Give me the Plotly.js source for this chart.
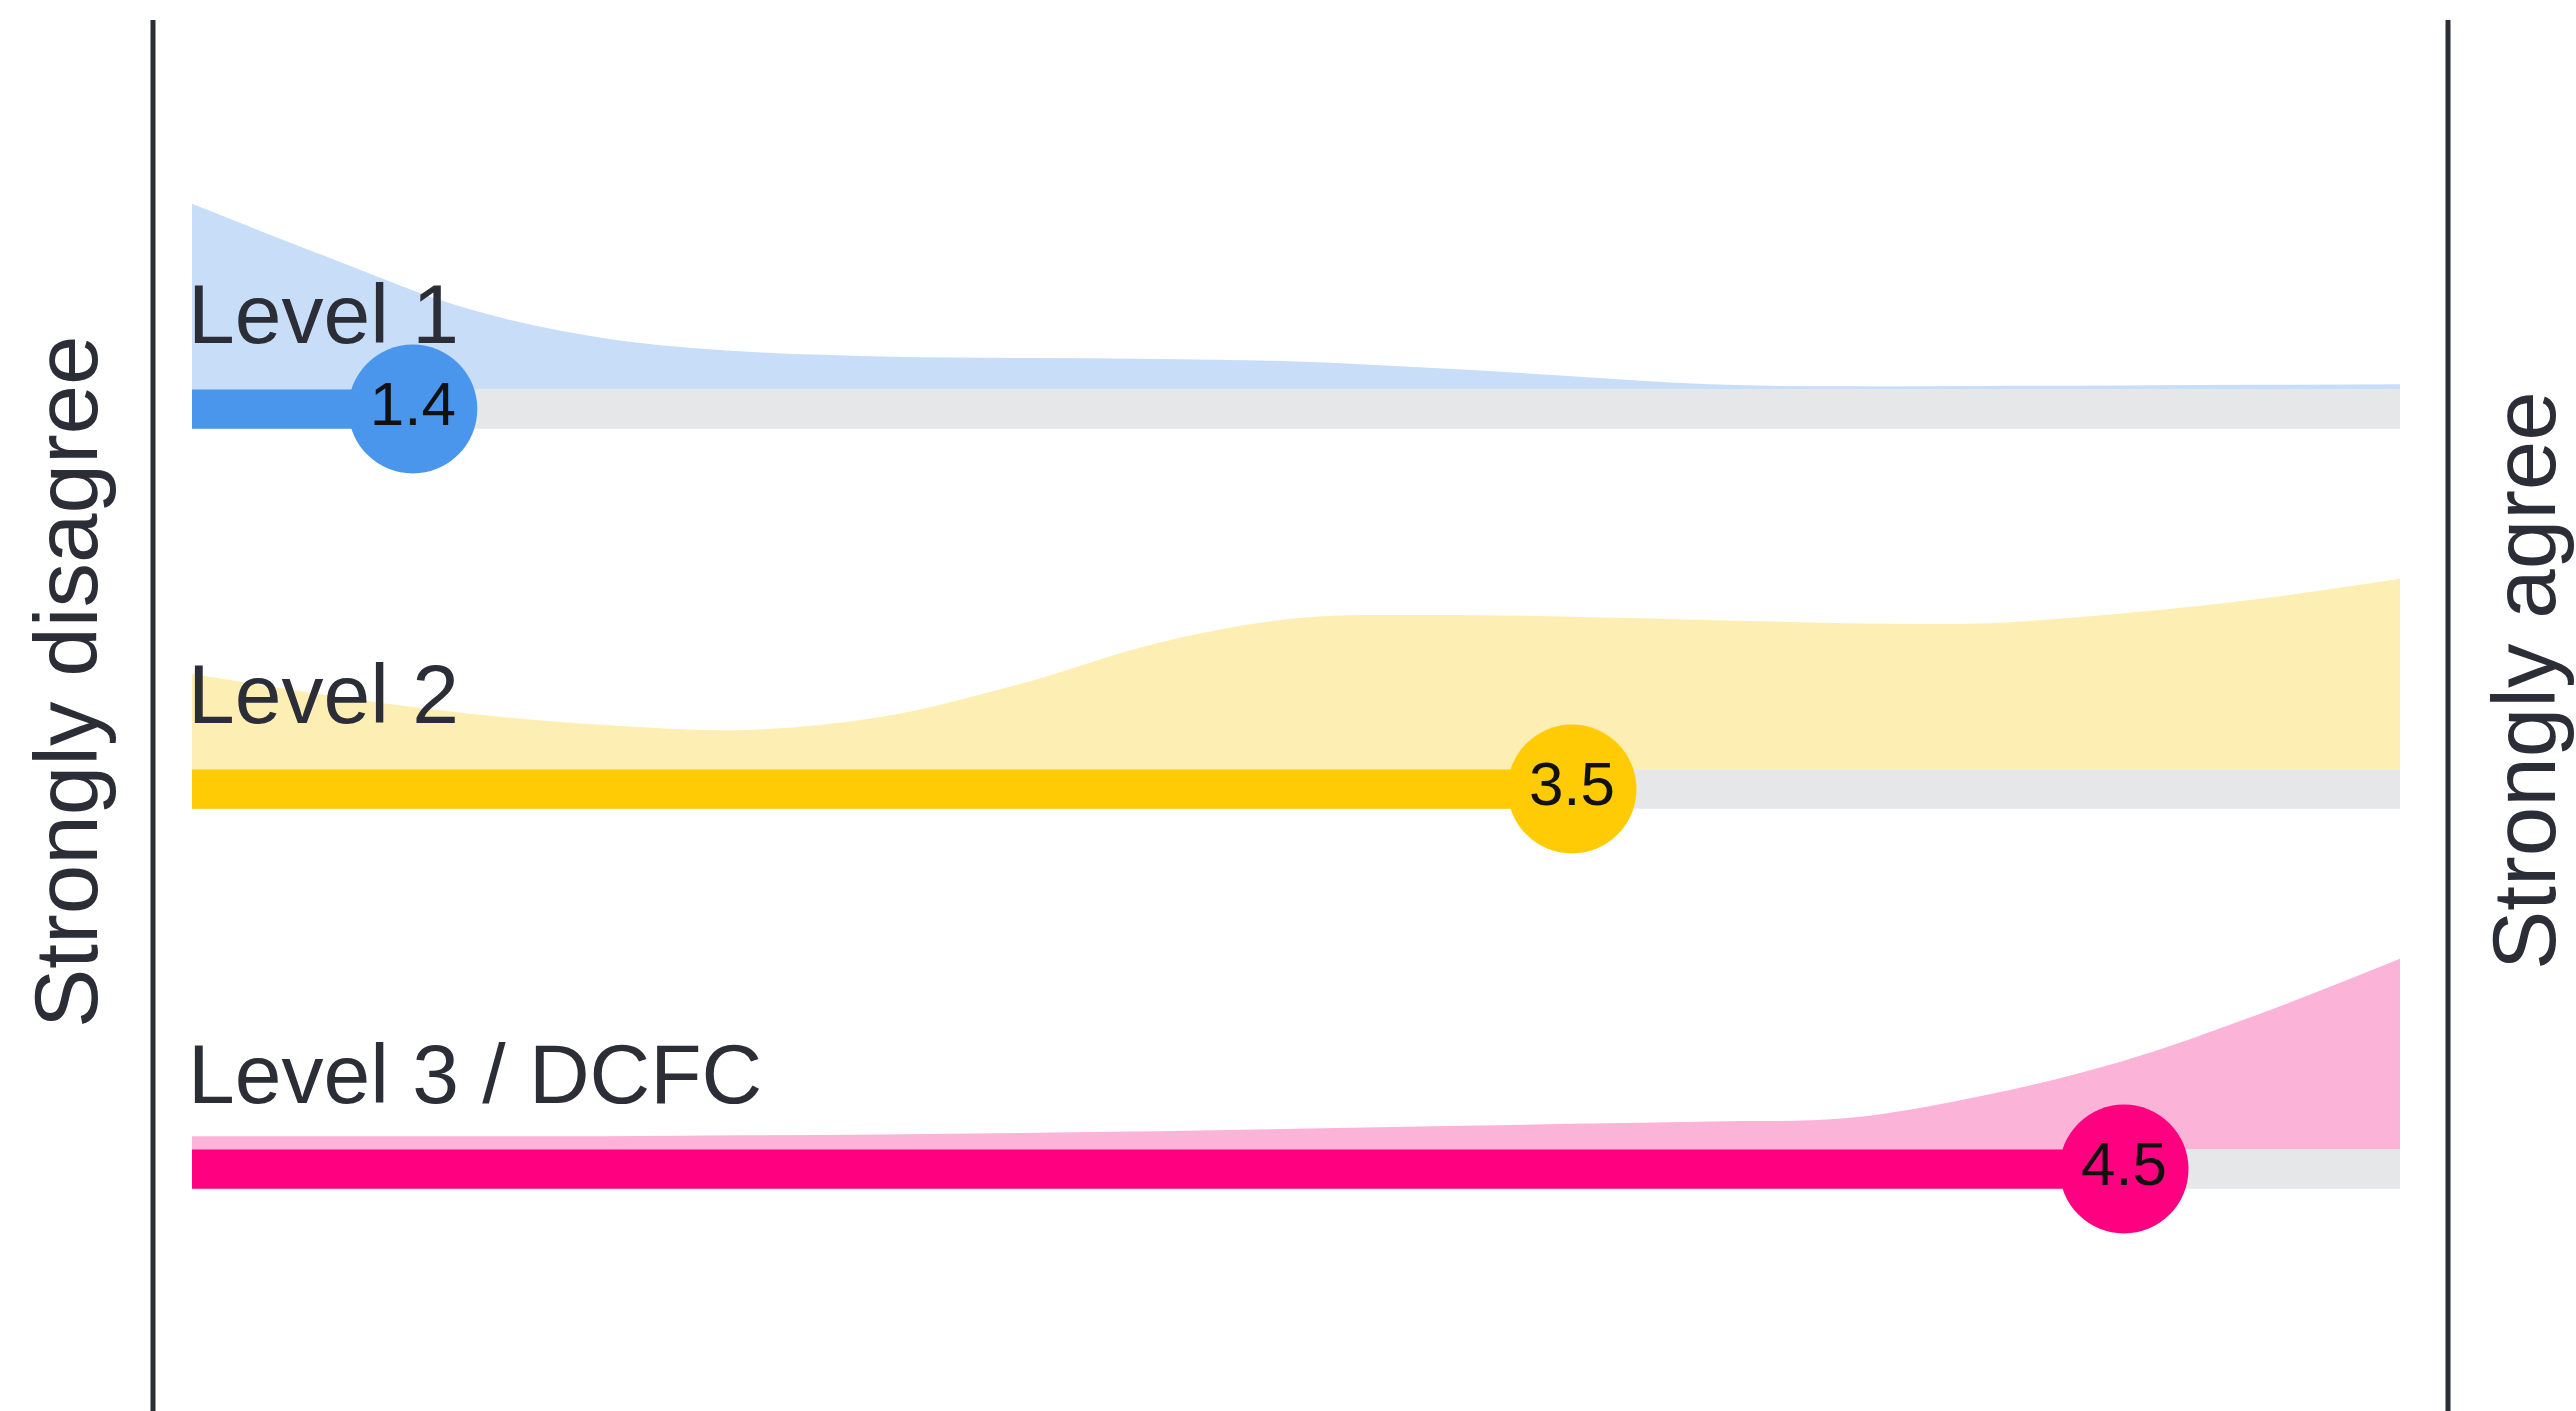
<!DOCTYPE html>
<html>
<head>
<meta charset="utf-8">
<script src="https://cdn.plot.ly/plotly-3.0.1.min.js"></script>
<style>
  html, body { margin: 0; padding: 0; background: #ffffff; }
  #chart { width: 2576px; height: 1411px; }
</style>
</head>
<body>
<div id="chart"></div>
<script>
// ---- data ----
const categories = ['Level 1', 'Level 2', 'Level 3 / DCFC'];
const meanScores = [1.4, 3.5, 4.5];
const scaleMin = 1;
const scaleMax = 5;
const leftLabel = 'Strongly disagree';
const rightLabel = 'Strongly agree';

// answer distribution (relative density) read along the 1..5 scale
const densityX = [1, 1.25, 1.5, 1.75, 2, 2.25, 2.5, 2.75, 3, 3.25, 3.5, 3.75, 4, 4.25, 4.5, 4.75, 5];
const level1Density = [113, 80, 49, 31, 23, 20, 19, 18.5, 17, 13, 8, 3, 1.8, 2, 2.3, 2.7, 3];
const level2Density = [58, 45, 34, 27, 24, 32, 52, 77, 92, 94, 93, 91, 89, 89, 95, 104, 116];
const level3Density = [8, 8, 8, 8, 8.5, 9, 10, 11, 12.5, 14, 15.5, 17, 19, 33, 54, 83, 116];

// ---- styling ----
const darkColors = ['#4a96ec', '#ffcb05', '#ff0080'];
const lightColors = ['#c8ddf8', '#fdefb3', '#fbb3d7'];
const trackColor = '#e6e7e9';
const inkColor = '#2b2e36';
const rowY = [3, 2, 1];          // vertical position of each row
const barThick = 0.1037;          // bar thickness in y units
const densityScale = 0.00432;     // density -> y units

const densities = [level1Density, level2Density, level3Density];
const traces = [];

// density areas
categories.forEach((c, i) => {
  const base = rowY[i] + barThick / 2;
  traces.push({
    type: 'scatter', mode: 'lines', x: densityX,
    y: densityX.map(() => base),
    line: { width: 0, color: 'rgba(0,0,0,0)' },
    hoverinfo: 'skip', showlegend: false
  });
  traces.push({
    type: 'scatter', mode: 'lines', x: densityX,
    y: densities[i].map(d => base + d * densityScale),
    line: { width: 0, shape: 'spline', smoothing: 1, color: lightColors[i] },
    fill: 'tonexty', fillcolor: lightColors[i],
    hoverinfo: 'skip', showlegend: false
  });
});

// gray tracks
traces.push({
  type: 'bar', orientation: 'h',
  y: rowY, x: categories.map(() => scaleMax - scaleMin), base: scaleMin,
  width: barThick, marker: { color: trackColor, line: { width: 0 } },
  hoverinfo: 'skip', showlegend: false
});
// colored bars up to the mean
traces.push({
  type: 'bar', orientation: 'h',
  y: rowY, x: meanScores.map(m => m - scaleMin), base: scaleMin,
  width: barThick, marker: { color: darkColors, line: { width: 0 } },
  hoverinfo: 'skip', showlegend: false
});
// mean circles
traces.push({
  type: 'scatter', mode: 'markers+text',
  x: meanScores, y: rowY,
  text: meanScores.map(m => m.toFixed(1)),
  textposition: 'middle center',
  textfont: { family: 'Liberation Sans, Arial, sans-serif', size: 62, color: '#111111' },
  marker: { size: 129, color: darkColors, line: { width: 0 } },
  hoverinfo: 'skip', showlegend: false, cliponaxis: false
});

const annotations = categories.map((c, i) => ({
  x: scaleMin, y: rowY[i] + 0.25, xref: 'x', yref: 'y',
  text: c, showarrow: false, xanchor: 'left', yanchor: 'middle',
  xshift: -6,
  font: { family: 'Liberation Sans, Arial, sans-serif', size: 84, color: inkColor }
}));
annotations.push({
  x: 66 / 2576, y: 1 - 682 / 1411, xref: 'paper', yref: 'paper',
  text: leftLabel, textangle: -90, showarrow: false,
  xanchor: 'center', yanchor: 'middle',
  font: { family: 'Liberation Sans, Arial, sans-serif', size: 89, color: inkColor }
});
annotations.push({
  x: 2524 / 2576, y: 1 - 681 / 1411, xref: 'paper', yref: 'paper',
  text: rightLabel, textangle: -90, showarrow: false,
  xanchor: 'center', yanchor: 'middle',
  font: { family: 'Liberation Sans, Arial, sans-serif', size: 89, color: inkColor }
});

const shapes = [
  { type: 'line', xref: 'paper', yref: 'paper', x0: 153 / 2576, x1: 153 / 2576, y0: 0, y1: 1 - 20 / 1411,
    line: { color: inkColor, width: 5 } },
  { type: 'line', xref: 'paper', yref: 'paper', x0: 2448 / 2576, x1: 2448 / 2576, y0: 0, y1: 1 - 20 / 1411,
    line: { color: inkColor, width: 5 } }
];

const pxPerX = 552;   // pixels per scale unit
const pxPerY = 380;   // pixels per row unit
const layout = {
  width: 2576, height: 1411,
  margin: { l: 0, r: 0, t: 0, b: 0, pad: 0 },
  paper_bgcolor: '#ffffff', plot_bgcolor: '#ffffff',
  barmode: 'overlay',
  showlegend: false,
  xaxis: { range: [scaleMin - 192 / pxPerX, scaleMin + (2576 - 192) / pxPerX],
           visible: false, showgrid: false, zeroline: false, fixedrange: true },
  yaxis: { range: [rowY[0] + 409 / pxPerY - 1411 / pxPerY, rowY[0] + 409 / pxPerY],
           visible: false, showgrid: false, zeroline: false, fixedrange: true },
  annotations: annotations,
  shapes: shapes
};

Plotly.newPlot('chart', traces, layout, { displayModeBar: false, staticPlot: true });
</script>
</body>
</html>
